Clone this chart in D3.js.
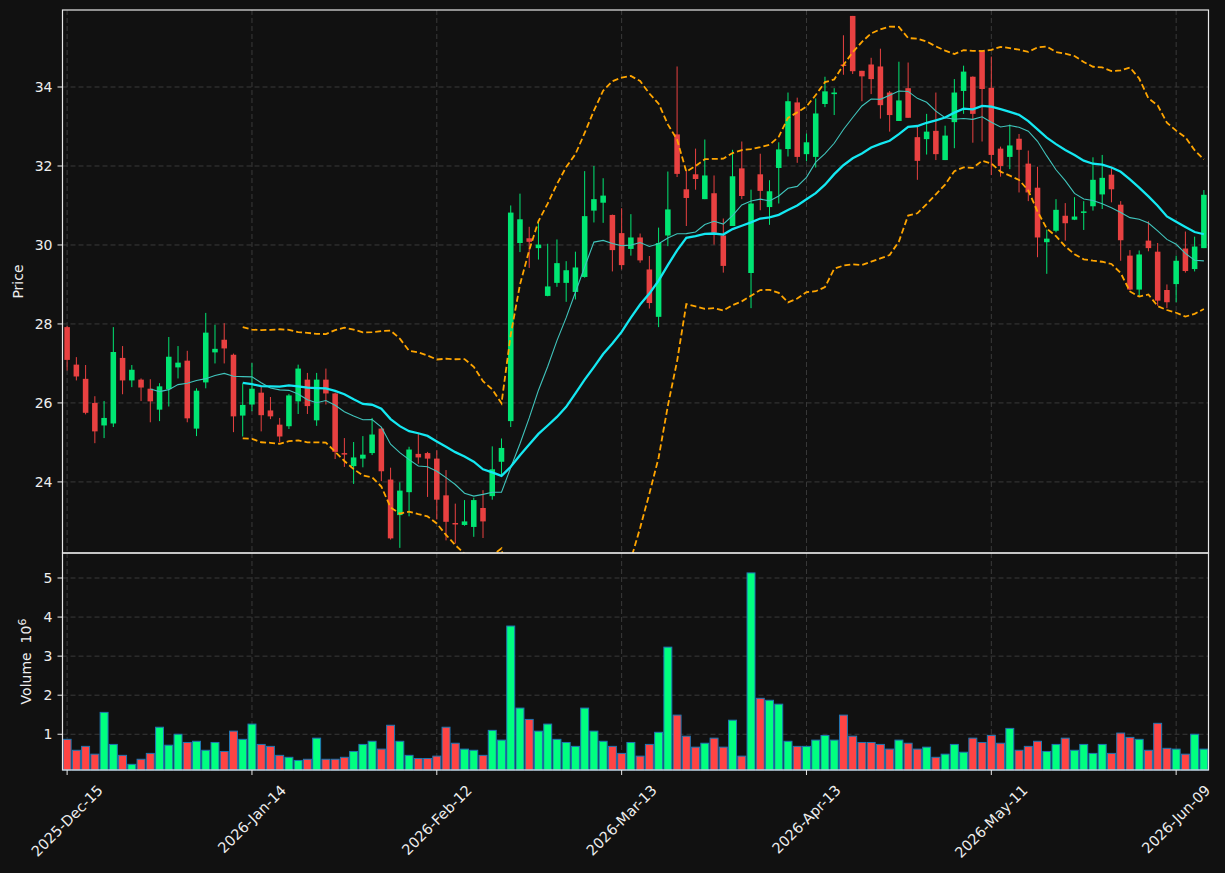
<!DOCTYPE html>
<html>
<head>
<meta charset="utf-8">
<script src="https://cdn.jsdelivr.net/npm/d3@7/dist/d3.min.js"></script>
<style>
  html, body { margin: 0; padding: 0; background: #111111; }
  svg { display: block; font-family: "DejaVu Sans", sans-serif; }
</style>
</head>
<body>
<div id="chart"></div>
<script>
// x axis ticks (trading-day index -> label)
const tickIndex = [0, 20, 40, 60, 80, 100, 120];
const tickLabels = ['2025-Dec-15', '2026-Jan-14', '2026-Feb-12', '2026-Mar-13', '2026-Apr-13', '2026-May-11', '2026-Jun-09'];

const priceTicks = [24, 26, 28, 30, 32, 34];
const volumeTicks = [1, 2, 3, 4, 5];

// OHLC, one value per trading day
const opens = [
  27.92, 26.97, 26.61, 26.00, 25.43, 25.48, 27.14, 26.57, 26.59, 26.36,
  25.83, 26.35, 26.90, 27.07, 25.35, 26.52, 27.28, 27.60, 27.22, 25.68,
  25.96, 26.26, 25.81, 25.45, 25.41, 26.04, 26.59, 25.56, 26.59, 26.24,
  24.73, 24.40, 24.59, 24.73, 25.35, 24.06, 23.16, 23.74, 24.71, 24.73,
  24.59, 23.66, 22.96, 22.91, 22.86, 23.34, 23.64, 24.51, 25.54, 30.05,
  30.17, 29.92, 28.71, 29.04, 29.04, 28.81, 29.19, 30.87, 31.07, 30.76,
  30.30, 29.90, 30.19, 29.38, 28.18, 30.24, 32.80, 31.41, 31.79, 31.16,
  31.31, 30.24, 30.48, 31.94, 29.29, 31.79, 30.96, 31.95, 32.43, 33.61,
  32.30, 32.23, 33.57, 33.82, 34.57, 35.80, 34.41, 34.57, 34.52, 33.86,
  33.14, 33.97, 32.73, 32.68, 32.89, 32.15, 33.11, 33.90, 34.26, 34.92,
  33.98, 32.44, 32.23, 32.69, 32.06, 31.45, 30.07, 30.36, 30.74, 30.64,
  30.83, 30.98, 31.28, 31.78, 31.02, 29.73, 28.87, 30.11, 29.83, 28.86,
  29.01, 29.91, 29.39, 29.92
];
const highs = [
  27.95, 27.16, 26.96, 26.17, 26.05, 27.92, 27.44, 26.96, 26.62, 26.60,
  26.50, 27.67, 27.44, 27.32, 26.37, 28.28, 27.98, 28.02, 27.25, 26.49,
  27.01, 26.42, 26.15, 25.62, 26.23, 26.97, 26.76, 26.76, 26.87, 26.26,
  25.11, 25.01, 25.16, 25.62, 25.37, 24.36, 23.99, 24.89, 25.22, 24.76,
  24.80, 24.30, 23.45, 23.54, 23.60, 23.79, 24.90, 25.10, 31.00, 31.30,
  30.46, 30.62, 30.03, 30.14, 29.59, 29.83, 31.87, 32.00, 31.69, 30.77,
  30.93, 30.78, 30.29, 29.72, 30.44, 31.86, 34.52, 31.89, 32.44, 32.67,
  31.76, 30.67, 32.41, 32.62, 31.40, 32.31, 31.64, 32.60, 33.86, 33.73,
  32.82, 33.71, 34.26, 33.97, 35.31, 35.80, 34.41, 34.74, 34.97, 33.90,
  34.64, 34.62, 33.00, 33.32, 33.86, 33.02, 34.20, 34.54, 34.27, 34.93,
  34.77, 32.49, 33.05, 32.81, 32.39, 31.98, 30.39, 31.16, 31.06, 31.21,
  31.11, 32.22, 32.28, 31.95, 31.11, 29.87, 29.86, 30.60, 30.05, 29.00,
  29.73, 30.34, 30.21, 31.39
];
const lows = [
  26.82, 26.57, 25.71, 24.98, 25.11, 25.39, 26.22, 26.40, 26.05, 25.51,
  25.54, 25.91, 26.62, 25.51, 25.16, 26.37, 27.00, 27.00, 25.26, 25.15,
  25.79, 25.28, 25.59, 25.00, 25.34, 25.72, 25.72, 25.42, 25.96, 24.58,
  24.38, 23.95, 24.37, 24.68, 24.02, 22.54, 22.33, 23.13, 24.46, 23.62,
  23.05, 22.52, 22.44, 22.89, 22.61, 22.58, 23.55, 24.17, 25.39, 29.82,
  29.42, 29.63, 28.70, 28.94, 28.56, 28.62, 29.17, 30.57, 30.56, 29.33,
  29.38, 29.73, 29.55, 28.39, 27.92, 29.97, 31.72, 30.48, 31.40, 31.16,
  30.01, 29.30, 30.48, 31.16, 28.40, 30.88, 30.51, 31.05, 32.24, 32.08,
  32.12, 31.96, 33.49, 33.29, 34.31, 34.33, 33.64, 33.82, 33.20, 32.87,
  33.14, 33.22, 31.65, 32.29, 32.15, 32.15, 32.45, 33.32, 32.59, 32.62,
  31.77, 31.73, 31.92, 31.33, 31.11, 29.69, 29.27, 30.32, 30.11, 30.63,
  30.38, 30.87, 30.91, 31.08, 29.60, 28.85, 28.70, 29.84, 28.46, 28.40,
  28.55, 29.30, 29.33, 29.92
];
const closes = [
  27.09, 26.67, 25.75, 25.28, 25.62, 27.29, 26.57, 26.84, 26.39, 26.04,
  26.42, 27.17, 27.02, 25.61, 26.31, 27.78, 27.37, 27.38, 25.66, 25.95,
  26.36, 25.69, 25.66, 25.15, 26.19, 26.87, 25.92, 26.59, 26.24, 24.76,
  24.70, 24.62, 24.69, 25.20, 24.27, 22.57, 23.78, 24.82, 24.62, 24.59,
  23.55, 22.99, 22.95, 23.00, 23.54, 23.00, 24.32, 24.86, 30.82, 30.65,
  30.08, 30.01, 28.95, 29.54, 29.36, 29.43, 30.73, 31.16, 31.25, 29.87,
  29.49, 30.19, 29.61, 28.53, 30.05, 30.90, 31.80, 31.19, 31.67, 31.76,
  30.31, 29.47, 31.74, 31.24, 31.05, 31.37, 31.36, 32.42, 33.64, 32.23,
  32.60, 33.33, 33.89, 33.86, 34.55, 34.40, 34.27, 34.20, 33.54, 33.29,
  33.66, 33.22, 32.13, 32.87, 32.30, 32.77, 33.86, 34.39, 33.32, 33.95,
  32.28, 32.00, 32.52, 32.41, 31.33, 30.19, 30.16, 30.89, 30.55, 30.72,
  30.85, 31.65, 31.70, 31.41, 30.12, 28.87, 29.76, 29.92, 28.59, 28.55,
  29.60, 29.34, 29.96, 31.27
];
// volume, millions of shares
const volumes = [
  0.87, 0.59, 0.69, 0.49, 1.56, 0.74, 0.46, 0.23, 0.36, 0.51,
  1.18, 0.72, 1.00, 0.79, 0.82, 0.59, 0.79, 0.56, 1.08, 0.87,
  1.26, 0.74, 0.69, 0.46, 0.41, 0.33, 0.36, 0.90, 0.36, 0.36,
  0.41, 0.56, 0.74, 0.82, 0.62, 1.23, 0.82, 0.46, 0.38, 0.38,
  0.44, 1.18, 0.77, 0.62, 0.59, 0.46, 1.10, 0.85, 3.77, 1.67,
  1.38, 1.08, 1.26, 0.87, 0.79, 0.69, 1.67, 1.08, 0.82, 0.69,
  0.51, 0.79, 0.44, 0.74, 1.05, 3.23, 1.49, 0.95, 0.67, 0.77,
  0.90, 0.67, 1.36, 0.44, 5.13, 1.92, 1.87, 1.77, 0.82, 0.69,
  0.69, 0.85, 0.97, 0.85, 1.49, 0.95, 0.79, 0.79, 0.74, 0.62,
  0.85, 0.77, 0.62, 0.67, 0.41, 0.49, 0.74, 0.54, 0.90, 0.79,
  0.97, 0.77, 1.15, 0.59, 0.69, 0.82, 0.56, 0.74, 0.90, 0.59,
  0.74, 0.51, 0.74, 0.51, 1.03, 0.92, 0.87, 0.59, 1.28, 0.64,
  0.62, 0.49, 1.00, 0.62
];

const n = closes.length;
const candles = d3.range(n).map(i => ({
  i: i, open: opens[i], high: highs[i], low: lows[i], close: closes[i], volume: volumes[i]
}));

// rolling indicators computed from the closes
function rolling(period, fn) {
  return d3.range(n).map(i => {
    if (i < period - 1) return null;
    return fn(closes.slice(i - period + 1, i + 1));
  });
}
const ma10 = rolling(10, w => d3.mean(w));
const ma20 = rolling(20, w => d3.mean(w));
const sd20 = rolling(20, w => {
  const m = d3.mean(w);
  return Math.sqrt(d3.mean(w, v => (v - m) * (v - m)));
});
const bbUpper = ma20.map((m, i) => m === null ? null : m + 2 * sd20[i]);
const bbLower = ma20.map((m, i) => m === null ? null : m - 2 * sd20[i]);

const width = 1225, height = 873;
const left = 62.5, right = 1208.5;
const mainTop = 10, mainBottom = 553, volBottom = 770;

const upColor = '#00e673', downColor = '#e84141';
const volUp = '#00ff80', volDown = '#ff4444';
const gridColor = '#3a3a3a', axisColor = '#e8e8e8', textColor = '#eeeeee';

const svg = d3.select('#chart').append('svg')
  .attr('width', width)
  .attr('height', height);

svg.append('rect')
  .attr('width', width).attr('height', height)
  .attr('fill', '#111111');

const xScale = d3.scaleLinear()
  .domain([-0.5, n - 0.5])
  .range([left, right]);
const yScale = d3.scaleLinear()
  .domain([22.2, 35.95])
  .range([mainBottom, mainTop]);
const vScale = d3.scaleLinear()
  .domain([0.085, 5.64])
  .range([volBottom, mainBottom]);

const step = xScale(1) - xScale(0);

svg.append('defs').append('clipPath')
  .attr('id', 'mainClip')
  .append('rect')
  .attr('x', left).attr('y', mainTop)
  .attr('width', right - left).attr('height', mainBottom - mainTop);

// grid
function drawGrid(yTicks, scale, top, bottom) {
  const g = svg.append('g');
  g.selectAll('.hgrid')
    .data(yTicks)
    .enter().append('line')
    .attr('x1', left).attr('x2', right)
    .attr('y1', d => scale(d)).attr('y2', d => scale(d))
    .attr('stroke', gridColor)
    .attr('stroke-width', 1)
    .attr('stroke-dasharray', '5,3');
  g.selectAll('.vgrid')
    .data(tickIndex)
    .enter().append('line')
    .attr('x1', d => xScale(d)).attr('x2', d => xScale(d))
    .attr('y1', top).attr('y2', bottom)
    .attr('stroke', gridColor)
    .attr('stroke-width', 1)
    .attr('stroke-dasharray', '5,3');
}
drawGrid(priceTicks, yScale, mainTop, mainBottom);
drawGrid(volumeTicks, vScale, mainBottom, volBottom);

// candles
const candleG = svg.append('g').attr('clip-path', 'url(#mainClip)');
candleG.selectAll('.wick')
  .data(candles)
  .enter().append('line')
  .attr('x1', d => xScale(d.i)).attr('x2', d => xScale(d.i))
  .attr('y1', d => yScale(d.high)).attr('y2', d => yScale(d.low))
  .attr('stroke', d => d.close >= d.open ? upColor : downColor)
  .attr('stroke-width', 1);
const bodyW = step * 0.6;
candleG.selectAll('.body')
  .data(candles)
  .enter().append('rect')
  .attr('x', d => xScale(d.i) - bodyW / 2)
  .attr('width', bodyW)
  .attr('y', d => yScale(Math.max(d.open, d.close)))
  .attr('height', d => Math.max(1.5, Math.abs(yScale(d.open) - yScale(d.close))))
  .attr('fill', d => d.close >= d.open ? upColor : downColor);

// moving averages and bands
const lineGen = d3.line()
  .defined(d => d !== null)
  .x((d, i) => xScale(i))
  .y(d => yScale(d));

const lineG = svg.append('g').attr('clip-path', 'url(#mainClip)');
lineG.append('path')
  .attr('d', lineGen(ma10))
  .attr('fill', 'none')
  .attr('stroke', '#40c4bc')
  .attr('stroke-width', 1.1);
lineG.append('path')
  .attr('d', lineGen(ma20))
  .attr('fill', 'none')
  .attr('stroke', '#14e8f2')
  .attr('stroke-width', 2.3);
[bbUpper, bbLower].forEach(band => {
  lineG.append('path')
    .attr('d', lineGen(band))
    .attr('fill', 'none')
    .attr('stroke', '#ffa500')
    .attr('stroke-width', 1.8)
    .attr('stroke-dasharray', '6,3');
});

// volume bars
const volW = step * 0.86;
svg.append('g').selectAll('.vol')
  .data(candles)
  .enter().append('rect')
  .attr('x', d => xScale(d.i) - volW / 2)
  .attr('width', volW)
  .attr('y', d => vScale(d.volume))
  .attr('height', d => volBottom - vScale(d.volume))
  .attr('fill', d => d.close >= d.open ? volUp : volDown)
  .attr('stroke', '#1f77b4')
  .attr('stroke-width', 1);

// frames
[[mainTop, mainBottom], [mainBottom, volBottom]].forEach(([t, b]) => {
  svg.append('rect')
    .attr('x', left).attr('y', t)
    .attr('width', right - left).attr('height', b - t)
    .attr('fill', 'none')
    .attr('stroke', axisColor)
    .attr('stroke-width', 1.2);
});

// y axes
function drawYTicks(ticks, scale) {
  const g = svg.append('g');
  g.selectAll('line')
    .data(ticks)
    .enter().append('line')
    .attr('x1', left - 5).attr('x2', left)
    .attr('y1', d => scale(d)).attr('y2', d => scale(d))
    .attr('stroke', axisColor)
    .attr('stroke-width', 1);
  g.selectAll('text')
    .data(ticks)
    .enter().append('text')
    .attr('x', left - 10)
    .attr('y', d => scale(d))
    .attr('dy', '0.36em')
    .attr('text-anchor', 'end')
    .attr('fill', textColor)
    .attr('font-size', 14)
    .text(d => d);
}
drawYTicks(priceTicks, yScale);
drawYTicks(volumeTicks, vScale);

svg.append('text')
  .attr('transform', `translate(18, ${(mainTop + mainBottom) / 2}) rotate(-90)`)
  .attr('text-anchor', 'middle')
  .attr('dy', '0.36em')
  .attr('fill', textColor)
  .attr('font-size', 14)
  .text('Price');

const volLabel = svg.append('text')
  .attr('transform', `translate(26, ${(mainBottom + volBottom) / 2}) rotate(-90)`)
  .attr('text-anchor', 'middle')
  .attr('dy', '0.36em')
  .attr('fill', textColor)
  .attr('font-size', 14)
  .style('white-space', 'pre');
volLabel.append('tspan').text('Volume\u00a0\u00a010');
volLabel.append('tspan').attr('dy', '-0.5em').attr('font-size', 11).text('6');

// x axis ticks and rotated labels
const xg = svg.append('g');
xg.selectAll('line')
  .data(tickIndex)
  .enter().append('line')
  .attr('x1', d => xScale(d)).attr('x2', d => xScale(d))
  .attr('y1', volBottom).attr('y2', volBottom + 5)
  .attr('stroke', axisColor)
  .attr('stroke-width', 1);

const labelTop = 782;
tickIndex.forEach((idx, k) => {
  const t = xg.append('text')
    .attr('text-anchor', 'middle')
    .attr('dominant-baseline', 'central')
    .attr('fill', textColor)
    .attr('font-size', 14.5)
    .text(tickLabels[k]);
  const len = t.node().getComputedTextLength();
  const side = (len + 16) / Math.SQRT2;
  t.attr('transform', `translate(${xScale(idx)}, ${labelTop + side / 2}) rotate(-45)`);
});
</script>
</body>
</html>
